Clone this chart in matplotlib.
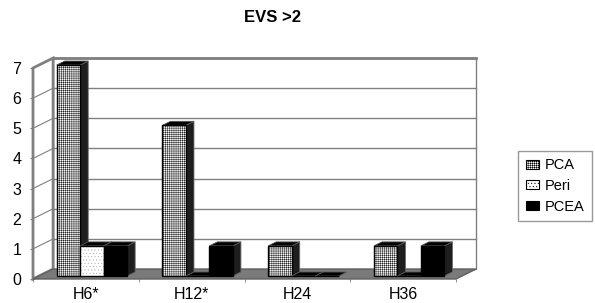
import matplotlib.pyplot as plt
from matplotlib.patches import Polygon, Patch

categories = ['H6*', 'H12*', 'H24', 'H36']
series = ['PCA', 'Peri', 'PCEA']
pca = [7, 5, 1, 1]
peri = [1, 0, 0, 0]
pcea = [1, 1, 0, 1]
yticks = [0, 1, 2, 3, 4, 5, 6, 7]

plt.rcParams['font.family'] = ['Liberation Sans', 'DejaVu Sans']
plt.rcParams['hatch.linewidth'] = 0.35

# depth of the fake 3D box, in data units
DX, DY = 0.19, 0.33
F0, F1 = 0.3, 0.7   # bars sit between these depth fractions
W = 0.222           # bar width

def pt(x, y, f):
    return (x + f * DX, y + f * DY)

fig = plt.figure(figsize=(5.95, 3.03), dpi=100)
ax = fig.add_axes([33/595, 24/303, 423/595, 211/303])

x0, x1 = -0.5, len(categories) - 0.5
ymax = yticks[-1]
wall = '#808080'

# back wall, left wall and floor
ax.add_patch(Polygon([pt(x0, 0, 1), pt(x1, 0, 1), pt(x1, ymax, 1), pt(x0, ymax, 1)],
                     closed=True, fc='white', ec=wall, lw=1, clip_on=False, zorder=1))
ax.add_patch(Polygon([pt(x0, 0, 0), pt(x0, ymax, 0), pt(x0, ymax, 1), pt(x0, 0, 1)],
                     closed=True, fc='white', ec=wall, lw=2, clip_on=False, zorder=2))
for v in yticks[1:]:
    ax.plot(*zip(pt(x0, v, 1), pt(x1, v, 1)), color=wall, lw=1, clip_on=False, zorder=1.5)
    ax.plot(*zip(pt(x0, v, 0), pt(x0, v, 1)), color=wall, lw=0.8, clip_on=False, zorder=2.5)
ax.plot(*zip(pt(x0, ymax, 1), pt(x1, ymax, 1)), color=wall, lw=2, clip_on=False, zorder=2.5)
ax.add_patch(Polygon([pt(x0, 0, 0), pt(x1, 0, 0), pt(x1, 0, 1), pt(x0, 0, 1)],
                     closed=True, fc='#7a7a7a', ec='#606060', lw=1, clip_on=False, zorder=3))

styles = {
    'PCA': dict(fc='white', hatch='++++++++', hc='#222222'),
    'Peri': dict(fc='white', hatch='.....', hc='#b0b0b0'),
    'PCEA': dict(fc='black', hatch=None, hc='black'),
}
data = {'PCA': pca, 'Peri': peri, 'PCEA': pcea}

z = 4
for j in range(len(categories)):
    for i, name in enumerate(series):
        v = data[name][j]
        xl = j - 1.5 * W + i * W
        xr = xl + W
        st = styles[name]
        front = [pt(xl, 0, F0), pt(xr, 0, F0), pt(xr, v, F0), pt(xl, v, F0)]
        side = [pt(xr, 0, F0), pt(xr, 0, F1), pt(xr, v, F1), pt(xr, v, F0)]
        top = [pt(xl, v, F0), pt(xr, v, F0), pt(xr, v, F1), pt(xl, v, F1)]
        ax.add_patch(Polygon(side, closed=True, fc='#1e1e1e', ec='#666666', lw=0.6,
                             clip_on=False, zorder=z))
        ax.add_patch(Polygon(top, closed=True, fc='black', ec='#555555', lw=0.6,
                             clip_on=False, zorder=z + 0.1))
        ax.add_patch(Polygon(front, closed=True, fc=st['fc'], ec=st['hc'], lw=0,
                             hatch=st['hatch'], clip_on=False, zorder=z + 0.2))
        ax.add_patch(Polygon(front, closed=True, fill=False, ec='black', lw=1,
                             clip_on=False, zorder=z + 0.3))
        z += 1

ax.set_xlim(x0, x1)
ax.set_ylim(0, ymax)
ax.set_yticks(yticks)
ax.set_xticks(range(len(categories)), categories)
ax.set_xticks([k + 0.5 for k in range(-1, len(categories))], minor=True)
for s in ax.spines.values():
    s.set_visible(False)
ax.tick_params(axis='y', direction='out', length=2.5, color=wall, pad=6, labelsize=11.5)
ax.tick_params(axis='x', which='major', length=0, pad=6, labelsize=11.5)
ax.tick_params(axis='x', which='minor', direction='out', length=2.5, color=wall)
ax.set_facecolor('none')

fig.text(272/595, 1 - 18/303, 'EVS >2', ha='center', va='center',
         fontsize=12, fontweight='bold')

handles = [Patch(fc=styles[n]['fc'], ec='black', hatch=styles[n]['hatch'], lw=0.8)
           for n in series]
fig.legend(handles, series, loc='center', bbox_to_anchor=(555/595, 1 - 186/303),
           frameon=True, fancybox=False, edgecolor=wall, fontsize=10.5,
           handlelength=0.9, handleheight=0.6, handletextpad=0.4,
           labelspacing=0.45, borderpad=0.5, borderaxespad=0)

fig.savefig('out.png', dpi=100)
